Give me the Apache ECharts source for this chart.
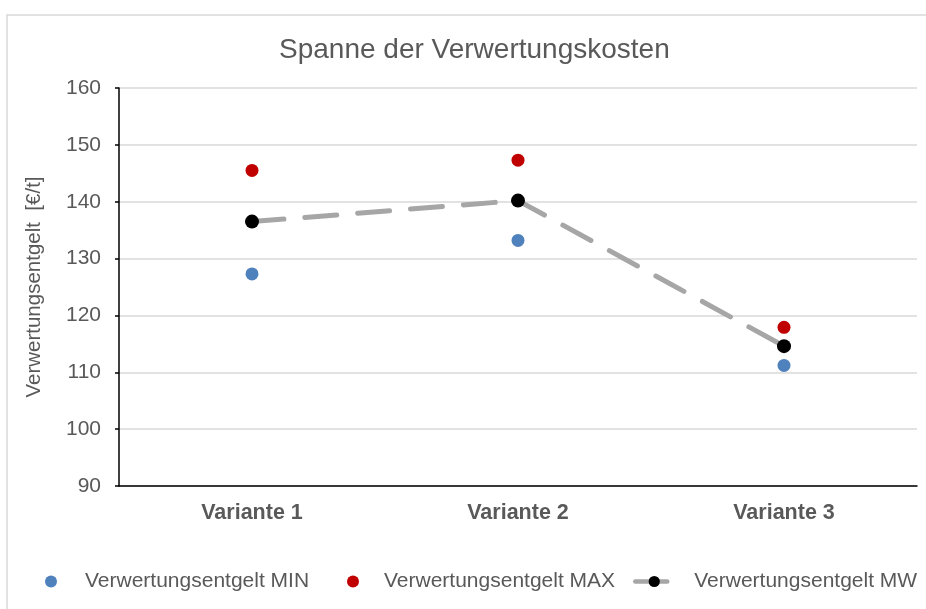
<!DOCTYPE html>
<html>
<head>
<meta charset="utf-8">
<script src="https://cdn.jsdelivr.net/npm/echarts@6/dist/echarts.min.js"></script>
<style>
  html, body { margin: 0; padding: 0; background: #fff; }
  #chart { width: 926px; height: 609px; }
</style>
</head>
<body>
<div id="chart"></div>
<script>
// Kategorien und Werte
var categories = ['Variante 1', 'Variante 2', 'Variante 3'];
var minValues = [127.3, 133.2, 111.2];
var maxValues = [145.5, 147.3, 117.9];
var mwValues = [136.5, 140.2, 114.6];

var textColor = '#595959';
var font = 'Liberation Sans, Arial, sans-serif';

var myChart = echarts.init(document.getElementById('chart'));

var option = {
    animation: false,
    textStyle: { fontFamily: font },
    title: {
        text: 'Spanne der Verwertungskosten',
        left: 274,
        top: 31,
        textStyle: { color: textColor, fontSize: 28, fontWeight: 'normal', fontFamily: font }
    },
    graphic: [{
        type: 'rect',
        shape: { x: 7, y: 15, width: 1000, height: 1000 },
        style: { fill: 'none', stroke: '#d9d9d9', lineWidth: 1.5 },
        silent: true
    }],
    legend: [
        {
            data: ['Verwertungsentgelt MIN'],
            left: 40, top: 566,
            itemWidth: 24, itemHeight: 12,
            textStyle: { color: textColor, fontSize: 21, fontFamily: font, padding: [0, 0, 0, 17] }
        },
        {
            data: ['Verwertungsentgelt MAX'],
            left: 342, top: 566,
            itemWidth: 24, itemHeight: 12,
            textStyle: { color: textColor, fontSize: 21, fontFamily: font, padding: [0, 0, 0, 14] }
        },
        {
            data: ['Verwertungsentgelt MW'],
            left: 628, top: 566,
            itemWidth: 38, itemHeight: 14,
            lineStyle: { color: '#a6a6a6', width: 4.5 },
            textStyle: { color: textColor, fontSize: 21, fontFamily: font, padding: [0, 0, 0, 16] }
        }
    ],
    grid: {
        left: 119,
        right: 9,
        top: 88,
        bottom: 123,
        containLabel: false
    },
    xAxis: {
        type: 'category',
        data: categories,
        boundaryGap: true,
        axisLine: { lineStyle: { color: '#000', width: 1.5 } },
        axisTick: { inside: true, length: 4, alignWithLabel: true, lineStyle: { color: '#000', width: 1.5 } },
        axisLabel: { color: textColor, fontSize: 21.5, fontWeight: 'bold', margin: 16, fontFamily: font },
        splitLine: { show: false }
    },
    yAxis: {
        type: 'value',
        min: 90,
        max: 160,
        interval: 10,
        name: 'Verwertungsentgelt  [€/t]',
        nameLocation: 'middle',
        nameGap: 74,
        nameTextStyle: { color: textColor, fontSize: 20.5, fontFamily: font },
        axisLine: { show: true, lineStyle: { color: '#000', width: 1.5 } },
        axisTick: { show: true, length: 4, lineStyle: { color: '#000', width: 1.5 } },
        axisLabel: { color: textColor, fontSize: 21, margin: 18, fontFamily: font },
        splitLine: { lineStyle: { color: '#d9d9d9', width: 1.5 } }
    },
    series: [
        {
            name: 'Verwertungsentgelt MIN',
            type: 'scatter',
            data: minValues,
            symbol: 'circle',
            symbolSize: 13,
            itemStyle: { color: '#4f81bd', opacity: 1 },
            z: 3
        },
        {
            name: 'Verwertungsentgelt MAX',
            type: 'scatter',
            data: maxValues,
            symbol: 'circle',
            symbolSize: 13,
            itemStyle: { color: '#c00000', opacity: 1 },
            z: 3
        },
        {
            name: 'Verwertungsentgelt MW',
            type: 'line',
            data: mwValues,
            symbol: 'circle',
            symbolSize: 14,
            showSymbol: true,
            itemStyle: { color: '#000', opacity: 1 },
            lineStyle: { color: '#a6a6a6', width: 5, type: [32, 21], cap: 'round' },
            z: 4
        }
    ]
};

myChart.setOption(option);
</script>
</body>
</html>
